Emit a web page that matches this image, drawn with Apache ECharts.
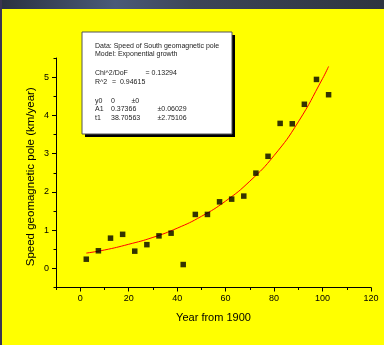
<!DOCTYPE html>
<html>
<head>
<meta charset="utf-8">
<script src="https://cdn.jsdelivr.net/npm/echarts@6/dist/echarts.min.js"></script>
<style>
html,body{margin:0;padding:0;background:#ffff00;}
#c{width:384px;height:345px;}
</style>
</head>
<body>
<div id="c"></div>
<script>
// Observed data: year offset from 1900 and pole speed (km/year)
var years = [2.5, 7.5, 12.5, 17.5, 22.5, 27.5, 32.5, 37.5, 42.5, 47.5, 52.5, 57.5, 62.5, 67.5, 72.5, 77.5, 82.5, 87.5, 92.5, 97.5, 102.5];
var speeds = [0.24, 0.46, 0.79, 0.89, 0.45, 0.62, 0.85, 0.92, 0.10, 1.41, 1.41, 1.74, 1.81, 1.89, 2.49, 2.93, 3.79, 3.78, 4.29, 4.94, 4.54];
// Fitted curve
var fitX = [2.5, 10, 20, 30, 40, 50, 60, 70, 80, 90, 100, 102.5];
var fitY = [0.40, 0.48, 0.63, 0.81, 1.05, 1.36, 1.76, 2.28, 2.95, 3.83, 4.96, 5.28];
// Tick labels
var xTicks = [0, 20, 40, 60, 80, 100, 120];
var xMinor = [-10, 10, 30, 50, 70, 90, 110];
var yTicks = [0, 1, 2, 3, 4, 5];
var yMinor = [-0.5, 0.5, 1.5, 2.5, 3.5, 4.5, 5.5];
// Fit info text
var infoLines = [
  ['Data: Speed of South geomagnetic pole'],
  ['Model: Exponential growth'],
  [],
  ['Chi^2/DoF', '= 0.13294'],
  ['R^2', '=  0.94615'],
  [],
  ['y0', '0', '\u00b10'],
  ['A1', '0.37366', '\u00b10.06029'],
  ['t1', '38.70563', '\u00b12.75106']
];

var FONT = '"Liberation Sans", Arial, sans-serif';
var chart = echarts.init(document.getElementById('c'), null, {renderer: 'canvas'});

var pts = years.map(function (x, i) { return [x, speeds[i]]; });
var fit = fitX.map(function (x, i) { return [x, fitY[i]]; });

var graphics = [
  {type: 'rect', shape: {x: 0, y: 0, width: 384, height: 9}, style: {fill: new echarts.graphic.LinearGradient(0, 0, 1, 0, [
    {offset: 0, color: '#2b3140'}, {offset: 0.3, color: '#4a5a78'}, {offset: 0.5, color: '#3d4658'}, {offset: 1, color: '#2e3440'}])}, z: 10},
  {type: 'rect', shape: {x: 0, y: 0, width: 2, height: 345}, style: {fill: '#3a3550'}, z: 10},
  {type: 'rect', shape: {x: 85, y: 35, width: 150, height: 102}, style: {fill: '#000'}, z: 10},
  {type: 'rect', shape: {x: 82, y: 32, width: 150, height: 102}, style: {fill: '#fff', stroke: '#555', lineWidth: 1}, z: 11}
];
var colX = [95, 111, 131.5];
var lineY = [45.7, 54.3, 0, 73.3, 82.3, 0, 100.7, 109.3, 118];
infoLines.forEach(function (ln, i) {
  ln.forEach(function (t, j) {
    var x = colX[j];
    if (i === 3 && j === 1) x = 145.5;
    if (i === 4 && j === 1) x = 112;
    if ((i === 7 || i === 8) && j === 2) x = 157.5;
    graphics.push({type: 'text', x: x, y: lineY[i], z: 12,
      style: {text: t, font: '7px ' + FONT, fill: '#222', verticalAlign: 'middle', textAlign: 'left'}});
  });
});

var option = {
  backgroundColor: '#ffff00',
  animation: false,
  grid: {left: 56, right: 13, top: 58, bottom: 57.5, containLabel: false},
  xAxis: [{
    type: 'value', min: -10, max: 120, position: 'bottom',
    name: 'Year from 1900', nameLocation: 'middle', nameGap: 25,
    nameTextStyle: {fontFamily: FONT, fontSize: 11, color: '#000'},
    axisLine: {show: true, onZero: false, lineStyle: {color: '#000', width: 1}},
    axisTick: {show: true, length: 4, customValues: xTicks, lineStyle: {color: '#000'}},
    axisLabel: {customValues: xTicks, fontFamily: FONT, fontSize: 9, color: '#000', margin: 7},
    splitLine: {show: false}
  }, {
    type: 'value', min: -10, max: 120, position: 'bottom', gridIndex: 0,
    axisLine: {show: false, onZero: false},
    axisTick: {show: true, length: 2.5, customValues: xMinor, lineStyle: {color: '#000'}},
    axisLabel: {show: false},
    splitLine: {show: false}
  }],
  yAxis: [{
    type: 'value', min: -0.5, max: 5.5, position: 'left',
    name: 'Speed geomagnetic pole (km/year)', nameLocation: 'middle', nameGap: 19,
    nameMoveOverlap: false,
    nameTextStyle: {fontFamily: FONT, fontSize: 11.5, color: '#000', padding: [0, 8, 0, 0]},
    axisLine: {show: true, onZero: false, lineStyle: {color: '#000', width: 1}},
    axisTick: {show: true, length: 4, customValues: yTicks, lineStyle: {color: '#000'}},
    axisLabel: {customValues: yTicks, fontFamily: FONT, fontSize: 9, color: '#000', margin: 7},
    splitLine: {show: false}
  }, {
    type: 'value', min: -0.5, max: 5.5, position: 'left', gridIndex: 0,
    axisLine: {show: false, onZero: false},
    axisTick: {show: true, length: 2.5, customValues: yMinor, lineStyle: {color: '#000'}},
    axisLabel: {show: false},
    splitLine: {show: false}
  }],
  series: [{
    type: 'line', data: fit, smooth: true, showSymbol: false, symbol: 'none',
    lineStyle: {color: '#ff0000', width: 1}, z: 2, silent: true
  }, {
    type: 'scatter', data: pts, symbol: 'rect', symbolSize: 5.5,
    itemStyle: {color: '#000'}, z: 3
  }],
  graphic: graphics
};
chart.setOption(option);
</script>
</body>
</html>
